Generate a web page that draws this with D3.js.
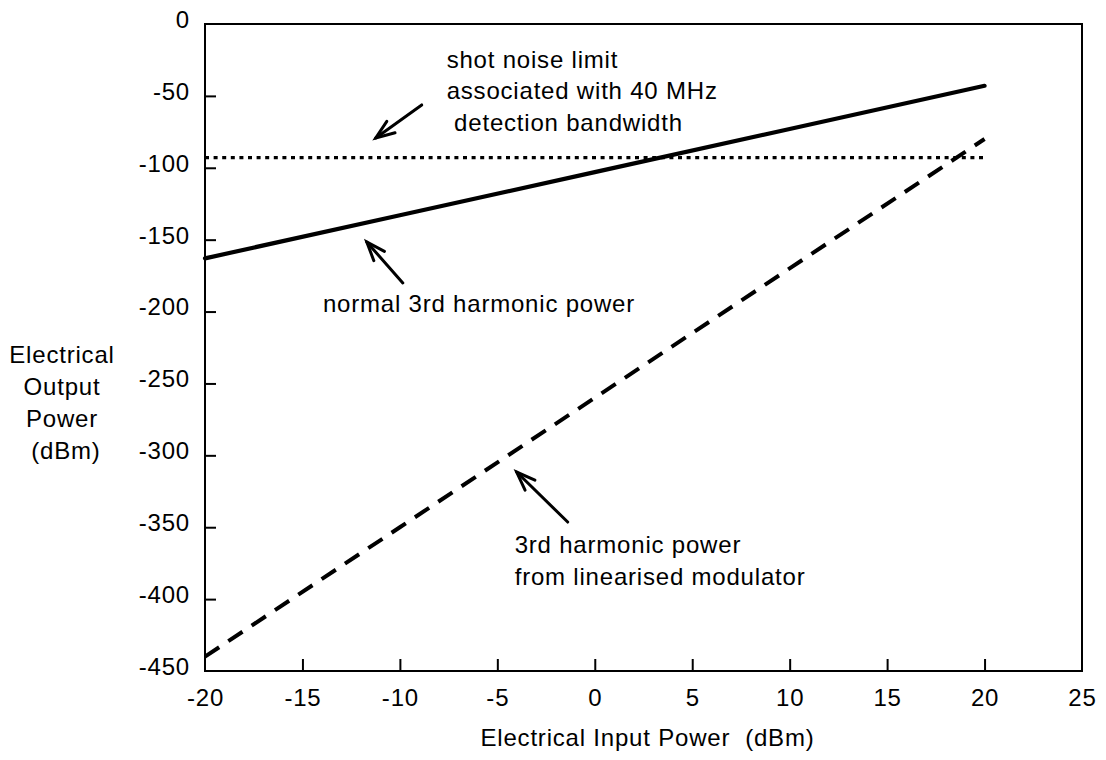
<!DOCTYPE html>
<html>
<head>
<meta charset="utf-8">
<script src="https://cdn.jsdelivr.net/npm/d3@7"></script>
<style>
  html, body { margin: 0; padding: 0; background: #fff; }
  text { font-family: "Liberation Sans", Arial, Helvetica, sans-serif; fill: #000; }
</style>
</head>
<body>
<svg id="chart" width="1106" height="760"></svg>
<script>
// ---- data ----
const xTicks = [-20, -15, -10, -5, 0, 5, 10, 15, 20, 25];
const yTicks = [0, -50, -100, -150, -200, -250, -300, -350, -400, -450];
const inputPower = [-20, -10, 0, 10, 20];
const normalHarmonic = [-163, -133, -103, -73, -43];
const linearisedHarmonic = [-440, -350, -260, -170, -80];
const shotNoiseX = [-20, 20];
const shotNoiseY = [-93, -93];

const xTitle = "Electrical Input Power  (dBm)";
const yTitleLines = ["Electrical", "Output", "Power", "(dBm)"];
const shotNoiseLabel = ["shot noise limit", "associated with 40 MHz", " detection bandwidth"];
const normalLabel = ["normal 3rd harmonic power"];
const linearisedLabel = ["3rd harmonic power", "from linearised modulator"];

// ---- layout ----
const svg = d3.select("#chart");
const mLeft = 205, mRight = 1082, mTop = 24, mBottom = 671;
const x = d3.scaleLinear().domain([-20, 25]).range([mLeft, mRight]);
const y = d3.scaleLinear().domain([-450, 0]).range([mBottom, mTop]);

const FS = 24, LS = 0.8;
const fmt = d => String(d);

// frame
svg.append("rect")
  .attr("x", mLeft).attr("y", mTop)
  .attr("width", mRight - mLeft).attr("height", mBottom - mTop)
  .attr("fill", "none").attr("stroke", "#000").attr("stroke-width", 2);

// y axis (inward ticks)
const yAxis = d3.axisLeft(y).tickValues(yTicks).tickSize(-11).tickPadding(0).tickFormat(fmt);
const gy = svg.append("g").attr("transform", `translate(${mLeft},0)`).call(yAxis);
gy.select(".domain").remove();
gy.selectAll(".tick line").attr("stroke", "#000").attr("stroke-width", 2);
gy.selectAll(".tick text")
  .attr("x", -15).attr("dy", null).attr("y", -3)
  .attr("dominant-baseline", "middle")
  .attr("fill", "#000")
  .style("font-size", FS + "px").style("letter-spacing", LS + "px")
  .style("font-family", '"Liberation Sans", Arial, sans-serif');
gy.selectAll(".tick").filter(d => d === 0 || d === -450).select("line").remove();

// x axis (inward ticks)
const xAxis = d3.axisBottom(x).tickValues(xTicks).tickSize(-12).tickPadding(0).tickFormat(fmt);
const gx = svg.append("g").attr("transform", `translate(0,${mBottom})`).call(xAxis);
gx.select(".domain").remove();
gx.selectAll(".tick line").attr("stroke", "#000").attr("stroke-width", 2);
gx.selectAll(".tick text")
  .attr("y", 35).attr("dy", null)
  .attr("fill", "#000")
  .style("font-size", FS + "px").style("letter-spacing", LS + "px")
  .style("font-family", '"Liberation Sans", Arial, sans-serif');
gx.selectAll(".tick").filter(d => d === -20 || d === 25).select("line").remove();

// axis titles
svg.append("text")
  .attr("x", (mLeft + mRight) / 2 + 4).attr("y", 746)
  .attr("text-anchor", "middle")
  .style("font-size", FS + "px").style("letter-spacing", LS + "px")
  .style("white-space", "pre")
  .text(xTitle);

svg.append("g").selectAll("text").data(yTitleLines).join("text")
  .attr("x", (d, i) => i === 3 ? 66 : 62)
  .attr("y", (d, i) => 363 + i * 32)
  .attr("text-anchor", "middle")
  .style("font-size", FS + "px").style("letter-spacing", LS + "px")
  .text(d => d);

// series
const line = d3.line().x(d => x(d[0])).y(d => y(d[1]));
const series = svg.append("g");

series.append("path")
  .datum(d3.zip(shotNoiseX, shotNoiseY))
  .attr("d", line)
  .attr("fill", "none").attr("stroke", "#000")
  .attr("stroke-width", 3.2).attr("stroke-dasharray", "4,4.6");

series.append("path")
  .datum(d3.zip(inputPower, linearisedHarmonic))
  .attr("d", line)
  .attr("fill", "none").attr("stroke", "#000")
  .attr("stroke-width", 4).attr("stroke-dasharray", "17,11");

series.append("path")
  .datum(d3.zip(inputPower, normalHarmonic))
  .attr("d", line)
  .attr("fill", "none").attr("stroke", "#000")
  .attr("stroke-width", 4.2).attr("stroke-linecap", "round");

// annotations (in data units)
function multiText(lines, dx, dy, spacing) {
  svg.append("g").selectAll("text").data(lines).join("text")
    .attr("x", x(dx)).attr("y", (d, i) => y(dy) + i * spacing)
    .style("font-size", FS + "px").style("letter-spacing", LS + "px")
    .style("white-space", "pre")
    .text(d => d);
}
multiText(shotNoiseLabel, -7.6, -30.6, 31.5);
multiText(normalLabel, -13.95, -200.3, 32);
multiText(linearisedLabel, -4.11, -367.9, 32);

function arrow(tail, tip) {
  const x1 = x(tail[0]), y1 = y(tail[1]), x2 = x(tip[0]), y2 = y(tip[1]);
  const ang = Math.atan2(y2 - y1, x2 - x1);
  const L = 20, a = 0.36;
  const p1 = [x2 - L * Math.cos(ang - a), y2 - L * Math.sin(ang - a)];
  const p2 = [x2 - L * Math.cos(ang + a), y2 - L * Math.sin(ang + a)];
  const g = svg.append("g").attr("stroke", "#000").attr("fill", "none")
    .attr("stroke-width", 3).attr("stroke-linecap", "round").attr("stroke-linejoin", "miter");
  g.append("line").attr("x1", x1).attr("y1", y1).attr("x2", x2).attr("y2", y2);
  g.append("polyline").attr("points", `${p1[0]},${p1[1]} ${x2},${y2} ${p2[0]},${p2[1]}`);
}
arrow([-8.88, -56.3], [-11.24, -79.3]);
arrow([-9.85, -180.1], [-11.7, -151.6]);
arrow([-1.39, -346.4], [-4.01, -311.6]);
</script>
</body>
</html>
